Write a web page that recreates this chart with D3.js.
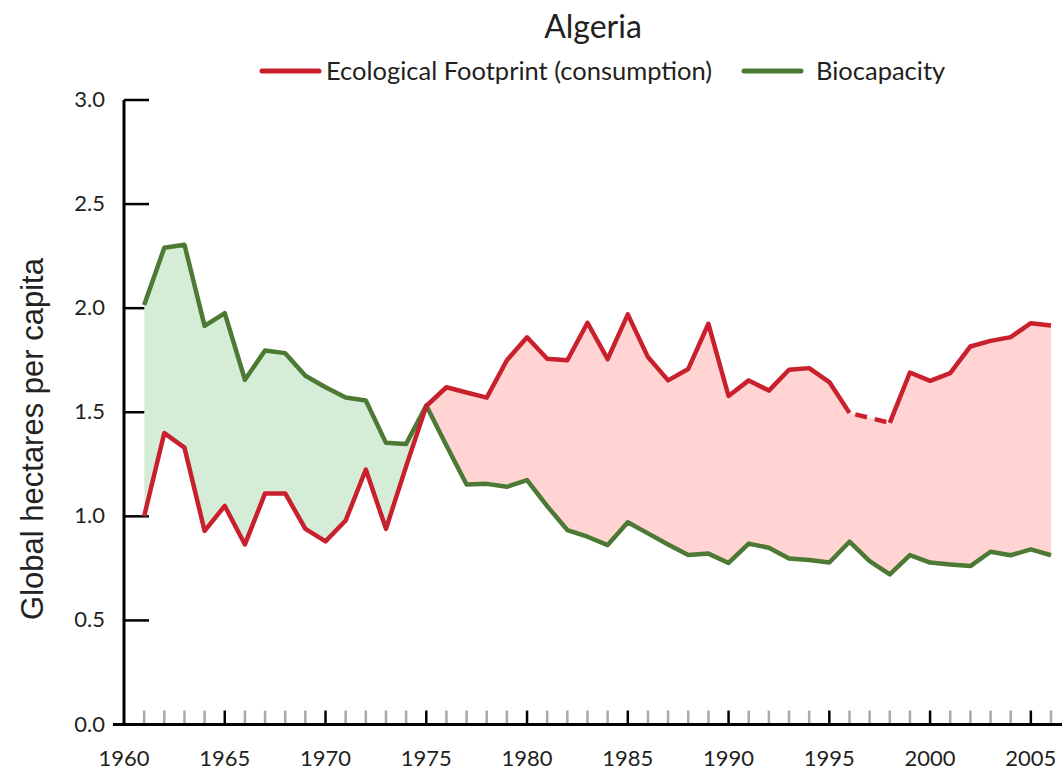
<!DOCTYPE html>
<html>
<head>
<meta charset="utf-8">
<script src="https://cdn.jsdelivr.net/npm/d3@7"></script>
<style>
  body { margin: 0; background: #fff; }
  svg { display: block; }
  .lbl { font-family: Lato, "Open Sans", sans-serif; fill: #231f20; }
</style>
</head>
<body>
<svg id="chart" width="1062" height="771"></svg>
<script>
const years = d3.range(1961, 2007);

const footprint = [
  1.00, 1.40, 1.33, 0.93, 1.05, 0.865, 1.11, 1.11, 0.94, 0.88,
  0.98, 1.225, 0.94, 1.24, 1.53, 1.62, 1.595, 1.57, 1.75, 1.86,
  1.757, 1.75, 1.93, 1.755, 1.97, 1.765, 1.653, 1.708, 1.925, 1.578,
  1.653, 1.604, 1.704, 1.712, 1.645, 1.497, 1.473, 1.449, 1.691, 1.651,
  1.688, 1.816, 1.843, 1.861, 1.928, 1.917
];

const biocapacity = [
  2.015, 2.29, 2.305, 1.915, 1.976, 1.656, 1.797, 1.784, 1.675, 1.62,
  1.571, 1.556, 1.353, 1.348, 1.532, 1.34, 1.153, 1.156, 1.142, 1.174,
  1.049, 0.934, 0.902, 0.862, 0.972, 0.918, 0.865, 0.814, 0.821, 0.776,
  0.869, 0.849, 0.797, 0.790, 0.778, 0.878, 0.785, 0.721, 0.814, 0.778,
  0.769, 0.761, 0.830, 0.813, 0.841, 0.813
];

// years where the footprint line is drawn dashed (estimated values)
const dashedYears = [1996, 1997, 1998];

const yTicks = [0, 0.5, 1.0, 1.5, 2.0, 2.5, 3.0];
const xLabels = d3.range(1960, 2006, 5);

const data = years.map((y, i) => ({year: y, fp: footprint[i], bio: biocapacity[i]}));

const RED = "#c9202e";
const GREEN = "#4c7a34";

const svg = d3.select("#chart");

const x = d3.scaleLinear().domain([1960, 2006]).range([124, 1051]);
const y = d3.scaleLinear().domain([0, 3]).range([724.5, 100]);

// title
svg.append("text").attr("class", "lbl")
  .attr("x", 593).attr("y", 38)
  .attr("text-anchor", "middle")
  .style("font-size", "32px")
  .text("Algeria");

// legend
const legend = [
  {name: "Ecological Footprint (consumption)", color: RED, x: 262, tx: 64},
  {name: "Biocapacity", color: GREEN, x: 744, tx: 72}
];
const lg = svg.append("g").selectAll("g").data(legend).join("g")
  .attr("transform", d => `translate(${d.x},71)`);
lg.append("line")
  .attr("x1", 0).attr("x2", 57)
  .attr("stroke", d => d.color).attr("stroke-width", 5)
  .attr("stroke-linecap", "round");
lg.append("text").attr("class", "lbl")
  .attr("x", d => d.tx).attr("y", 9)
  .style("font-size", "25.5px")
  .text(d => d.name);

// y axis label
svg.append("text")
  .attr("transform", "translate(43,439) rotate(-90)")
  .attr("text-anchor", "middle")
  .style("font-family", "'Liberation Sans', Arial, sans-serif")
  .style("font-size", "31px")
  .attr("fill", "#222")
  .text("Global hectares per capita");

// y axis
const yAxis = svg.append("g");
yAxis.append("line")
  .attr("x1", x(1960)).attr("x2", x(1960))
  .attr("y1", y(3)).attr("y2", y(0))
  .attr("stroke", "#000").attr("stroke-width", 3);
yAxis.selectAll("line.tick").data(yTicks.filter(d => d > 0)).join("line")
  .attr("class", "tick")
  .attr("x1", x(1960)).attr("x2", x(1960) + 25)
  .attr("y1", d => y(d)).attr("y2", d => y(d))
  .attr("stroke", "#000").attr("stroke-width", 2.5);
yAxis.selectAll("text").data(yTicks).join("text")
  .attr("class", "lbl")
  .attr("x", 105).attr("y", d => y(d) + 7)
  .attr("text-anchor", "end")
  .style("font-size", "22px")
  .text(d => d3.format(".1f")(d));

// x axis
const xAxis = svg.append("g");
xAxis.selectAll("line.tick").data(d3.range(1961, 2007)).join("line")
  .attr("class", "tick")
  .attr("x1", d => x(d)).attr("x2", d => x(d))
  .attr("y1", y(0) - 14).attr("y2", y(0))
  .attr("stroke", d => d % 5 === 0 ? "#000" : "#aaa")
  .attr("stroke-width", 2.5);
xAxis.append("line")
  .attr("x1", 113).attr("x2", 1062)
  .attr("y1", y(0)).attr("y2", y(0))
  .attr("stroke", "#000").attr("stroke-width", 3);
xAxis.selectAll("text").data(xLabels).join("text")
  .attr("class", "lbl")
  .attr("x", d => x(d)).attr("y", 766)
  .attr("text-anchor", "middle")
  .style("font-size", "22px")
  .text(d => d);

// difference fill: green where biocapacity is higher, pink where footprint is higher
const defs = svg.append("defs");
defs.append("clipPath").attr("id", "above-fp")
  .append("path").datum(data)
  .attr("d", d3.area().x(d => x(d.year)).y0(0).y1(d => y(d.fp)));
defs.append("clipPath").attr("id", "above-bio")
  .append("path").datum(data)
  .attr("d", d3.area().x(d => x(d.year)).y0(0).y1(d => y(d.bio)));

const between = d3.area()
  .x(d => x(d.year))
  .y0(d => y(d.fp))
  .y1(d => y(d.bio));

svg.append("path").datum(data)
  .attr("clip-path", "url(#above-fp)")
  .attr("fill", "#d5edd7")
  .attr("d", between);
svg.append("path").datum(data)
  .attr("clip-path", "url(#above-bio)")
  .attr("fill", "#ffd4d3")
  .attr("d", between);

// lines
const line = key => d3.line().x(d => x(d.year)).y(d => y(d[key]));

svg.append("path").datum(data)
  .attr("fill", "none").attr("stroke", GREEN).attr("stroke-width", 4.5)
  .attr("stroke-linejoin", "round")
  .attr("d", line("bio"));

svg.append("path").datum(data)
  .attr("fill", "none").attr("stroke", RED).attr("stroke-width", 4.5)
  .attr("stroke-linejoin", "round")
  .attr("d", line("fp").defined(d => !(d.year > dashedYears[0] && d.year < dashedYears[2])));

svg.append("path").datum(data.filter(d => dashedYears.includes(d.year)))
  .attr("fill", "none").attr("stroke", RED).attr("stroke-width", 4.5)
  .attr("stroke-dasharray", "12,8")
  .attr("stroke-dashoffset", -6)
  .attr("d", line("fp"));
</script>
</body>
</html>
